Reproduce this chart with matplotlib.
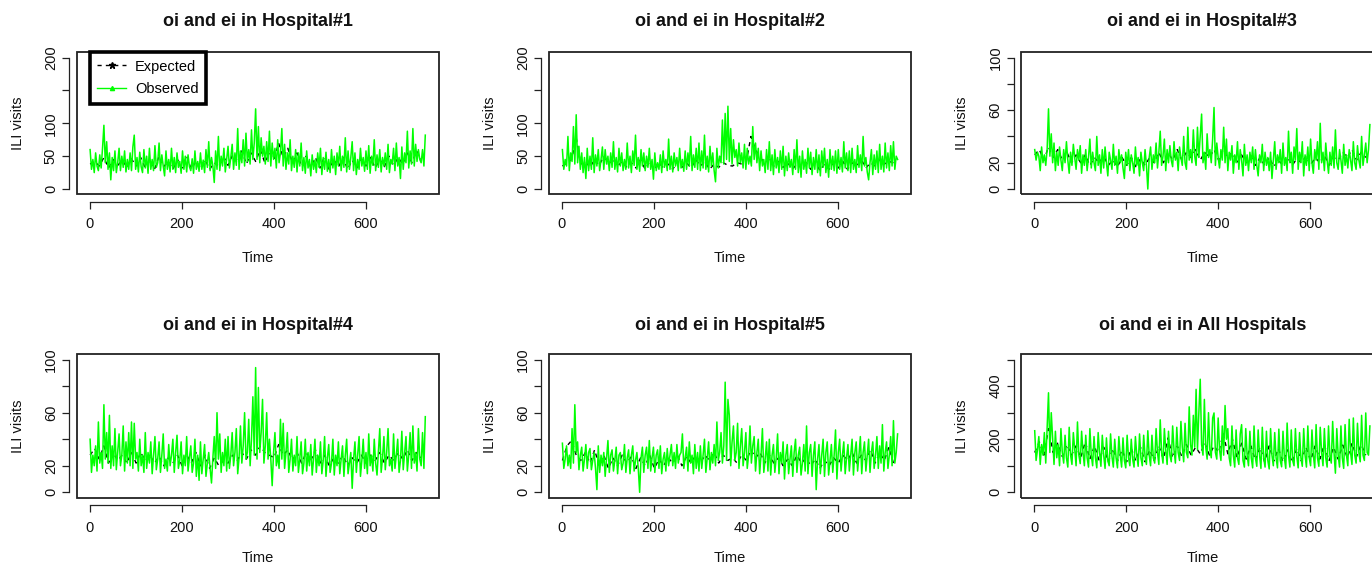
import numpy as np
import matplotlib
matplotlib.use("Agg")
import matplotlib.pyplot as plt
from matplotlib.lines import Line2D
from matplotlib.patches import Rectangle

plt.rcParams['font.family'] = ['Liberation Sans', 'DejaVu Sans']

# ---------------- data ----------------
obs_days = list(range(1, 731, 3))    # observed sampled every 3 days (244 values)
exp_days = list(range(1, 731, 10))   # expected sampled every 10 days (73 values)

titles = ["oi and ei in Hospital#1", "oi and ei in Hospital#2", "oi and ei in Hospital#3",
          "oi and ei in Hospital#4", "oi and ei in Hospital#5", "oi and ei in All Hospitals"]

h1_obs = [60, 30, 45, 25, 55, 35, 28, 52, 32, 62,
          97, 40, 72, 30, 55, 14, 48, 28, 58, 25,
          40, 62, 28, 50, 33, 58, 26, 45, 30, 55,
          28, 64, 82, 30, 48, 26, 56, 34, 25, 60,
          32, 50, 24, 62, 30, 45, 28, 66, 33, 40,
          70, 28, 52, 35, 20, 58, 30, 45, 26, 62,
          30, 48, 25, 55, 33, 42, 24, 58, 30, 50,
          26, 52, 34, 28, 46, 24, 58, 30, 42, 27,
          55, 30, 44, 25, 60, 33, 72, 28, 48, 35,
          10, 58, 30, 80, 28, 50, 35, 62, 26, 45,
          65, 32, 48, 68, 30, 55, 36, 92, 30, 58,
          40, 75, 35, 85, 42, 60, 38, 90, 45, 70,
          122, 45, 95, 40, 78, 50, 65, 38, 72, 42,
          88, 35, 70, 45, 62, 32, 75, 40, 55, 92,
          35, 68, 30, 55, 38, 75, 28, 50, 33, 60,
          26, 55, 35, 70, 28, 48, 24, 58, 32, 45,
          20, 52, 30, 44, 25, 55, 33, 62, 22, 48,
          30, 56, 27, 45, 25, 60, 32, 50, 22, 55,
          35, 65, 28, 50, 33, 78, 26, 58, 30, 48,
          72, 28, 55, 22, 45, 30, 62, 35, 48, 27,
          58, 30, 66, 24, 50, 36, 75, 28, 52, 33,
          60, 26, 48, 35, 55, 30, 68, 25, 45, 38,
          62, 28, 70, 35, 48, 16, 64, 30, 55, 40,
          88, 32, 58, 38, 92, 35, 68, 42, 60, 45,
          40, 60, 35, 82]
h1_exp = [38, 42, 35, 48, 32, 45, 36, 44, 33, 46,
          35, 48, 32, 44, 30, 50, 34, 42, 30, 45,
          32, 50, 30, 42, 33, 45, 30, 40, 35, 50,
          36, 52, 40, 58, 38, 55, 42, 60, 40, 55,
          45, 70, 48, 62, 40, 55, 35, 50, 33, 48,
          32, 50, 30, 45, 33, 48, 30, 44, 32, 46,
          35, 48, 32, 45, 34, 50, 36, 48, 38, 55,
          40, 58, 45]

h2_obs = [60, 30, 45, 35, 80, 28, 55, 42, 95, 38,
          113, 40, 65, 30, 55, 25, 48, 16, 62, 28,
          50, 30, 78, 25, 52, 35, 60, 28, 45, 64,
          30, 60, 38, 50, 28, 55, 33, 72, 30, 48,
          26, 62, 35, 55, 28, 45, 30, 70, 32, 50,
          25, 58, 36, 82, 30, 48, 27, 60, 35, 55,
          28, 50, 33, 62, 30, 45, 15, 55, 28, 40,
          30, 52, 25, 58, 33, 45, 28, 76, 30, 50,
          26, 55, 35, 48, 28, 62, 32, 45, 27, 58,
          30, 55, 35, 80, 28, 52, 33, 62, 30, 70,
          28, 58, 32, 82, 30, 50, 26, 65, 35, 55,
          28, 11, 62, 32, 50, 40, 105, 38, 115, 45,
          126, 42, 92, 38, 75, 48, 60, 35, 70, 40,
          55, 32, 68, 30, 62, 38, 50, 35, 95, 45,
          70, 40, 62, 28, 58, 35, 45, 25, 60, 30,
          72, 28, 52, 22, 60, 32, 48, 25, 58, 30,
          65, 20, 50, 28, 55, 33, 45, 22, 60, 30,
          75, 25, 50, 18, 58, 30, 45, 24, 62, 32,
          56, 22, 48, 30, 60, 25, 52, 20, 58, 33,
          62, 25, 45, 18, 60, 30, 50, 28, 58, 24,
          60, 30, 48, 26, 72, 32, 55, 28, 58, 25,
          62, 30, 45, 25, 66, 33, 52, 28, 80, 35,
          48, 26, 14, 40, 60, 22, 52, 30, 58, 25,
          68, 30, 50, 26, 70, 32, 55, 28, 66, 35,
          72, 30, 50, 45]
h2_exp = [35, 40, 45, 78, 38, 42, 33, 45, 36, 50,
          38, 45, 35, 42, 33, 40, 32, 45, 30, 42,
          30, 40, 32, 38, 30, 42, 33, 40, 32, 45,
          35, 42, 30, 38, 33, 40, 36, 35, 40, 38,
          42, 80, 60, 48, 40, 45, 35, 42, 33, 40,
          30, 38, 32, 40, 30, 42, 28, 38, 30, 40,
          32, 42, 30, 40, 35, 45, 32, 40, 35, 45,
          38, 42, 40]

h3_obs = [30, 22, 28, 25, 14, 32, 20, 26, 18, 30,
          61, 25, 42, 20, 35, 14, 28, 18, 32, 22,
          14, 30, 20, 36, 22, 12, 28, 18, 34, 24,
          15, 30, 22, 33, 12, 26, 18, 30, 14, 24,
          38, 16, 28, 20, 14, 40, 18, 26, 12, 30,
          16, 32, 20, 10, 28, 22, 15, 34, 18, 25,
          12, 30, 20, 26, 16, 8, 28, 18, 30, 14,
          26, 20, 12, 32, 18, 24, 10, 28, 20, 14,
          30, 18, 0, 24, 32, 15, 26, 20, 35, 16,
          28, 44, 18, 25, 38, 14, 30, 20, 33, 22,
          17, 36, 22, 28, 14, 32, 24, 18, 40, 20,
          15, 47, 22, 30, 20, 45, 25, 18, 47, 24,
          40, 57, 20, 28, 15, 42, 24, 30, 20, 38,
          62, 18, 35, 24, 16, 30, 22, 47, 20, 38,
          14, 28, 22, 33, 12, 26, 20, 36, 15, 30,
          22, 10, 34, 18, 26, 14, 28, 20, 32, 15,
          30, 18, 10, 26, 20, 34, 14, 28, 18, 24,
          14, 28, 8, 22, 36, 15, 26, 20, 30, 12,
          35, 18, 24, 14, 44, 20, 28, 12, 32, 22,
          46, 15, 28, 20, 36, 10, 26, 18, 32, 14,
          38, 20, 12, 30, 22, 36, 15, 50, 20, 28,
          14, 35, 22, 12, 28, 18, 32, 16, 45, 20,
          15, 30, 22, 12, 34, 18, 26, 16, 30, 22,
          14, 36, 20, 15, 33, 22, 16, 40, 18, 26,
          35, 20, 30, 49]
h3_exp = [26, 30, 22, 32, 24, 30, 22, 28, 20, 26,
          20, 26, 18, 24, 20, 25, 18, 22, 17, 24,
          18, 24, 17, 23, 18, 24, 20, 28, 20, 28,
          22, 30, 22, 28, 24, 30, 22, 28, 24, 30,
          22, 30, 24, 28, 20, 26, 20, 25, 18, 24,
          18, 24, 17, 22, 18, 24, 18, 23, 20, 25,
          18, 24, 20, 26, 18, 24, 22, 28, 24, 30,
          22, 28, 24]

h4_obs = [40, 15, 28, 20, 35, 16, 53, 22, 30, 18,
          66, 25, 45, 22, 58, 18, 35, 20, 48, 17,
          30, 44, 20, 28, 50, 16, 38, 22, 45, 20,
          53, 18, 52, 25, 30, 16, 40, 20, 28, 15,
          45, 18, 30, 22, 38, 14, 28, 42, 17, 25,
          38, 15, 28, 44, 18, 25, 16, 36, 20, 28,
          40, 15, 30, 43, 18, 24, 38, 14, 28, 20,
          42, 16, 26, 35, 15, 22, 40, 12, 28, 9,
          38, 14, 25, 36, 12, 22, 30, 18, 7, 26,
          42, 18, 60, 25, 44, 15, 30, 20, 40, 16,
          42, 18, 28, 45, 20, 30, 48, 14, 26, 50,
          22, 35, 60, 25, 30, 55, 20, 40, 72, 28,
          94, 25, 79, 30, 45, 70, 22, 35, 60, 25,
          40, 25, 5, 30, 45, 20, 28, 18, 55, 25,
          52, 18, 30, 45, 15, 25, 40, 16, 28, 20,
          42, 15, 25, 38, 14, 22, 40, 16, 30, 20,
          36, 13, 25, 40, 15, 28, 20, 38, 14, 24,
          42, 12, 26, 36, 15, 22, 40, 13, 28, 20,
          38, 14, 25, 35, 12, 28, 40, 14, 22, 30,
          3, 25, 38, 15, 28, 42, 12, 24, 40, 18,
          30, 14, 44, 20, 28, 16, 40, 22, 13, 30,
          48, 15, 26, 42, 17, 30, 48, 20, 25, 16,
          44, 18, 28, 40, 15, 24, 46, 17, 30, 42,
          16, 28, 45, 18, 50, 22, 30, 16, 48, 25,
          20, 45, 18, 57]
h4_exp = [28, 33, 25, 35, 22, 30, 24, 28, 22, 30,
          22, 30, 24, 28, 22, 27, 20, 26, 22, 28,
          20, 28, 22, 30, 20, 28, 18, 26, 20, 24,
          22, 28, 24, 30, 25, 32, 28, 35, 30, 28,
          26, 36, 28, 32, 24, 30, 22, 30, 24, 32,
          22, 28, 20, 26, 22, 28, 20, 26, 22, 28,
          22, 28, 24, 30, 22, 28, 24, 30, 25, 32,
          24, 30, 26]

h5_obs = [37, 18, 25, 35, 20, 28, 18, 48, 22, 66,
          30, 38, 17, 28, 34, 16, 25, 36, 18, 30,
          33, 17, 24, 30, 18, 2, 35, 15, 28, 20,
          30, 12, 25, 39, 15, 28, 32, 16, 24, 34,
          14, 28, 30, 17, 22, 36, 15, 26, 32, 14,
          28, 35, 16, 24, 30, 18, 0, 26, 34, 15,
          28, 34, 18, 39, 16, 26, 34, 15, 28, 32,
          18, 35, 14, 25, 30, 16, 33, 20, 28, 36,
          20, 30, 18, 36, 22, 28, 30, 44, 18, 26,
          34, 16, 38, 22, 28, 14, 36, 18, 30, 16,
          35, 18, 28, 40, 15, 26, 38, 17, 30, 22,
          36, 20, 53, 24, 30, 45, 22, 35, 83, 24,
          70, 58, 20, 38, 50, 24, 30, 52, 18, 35,
          48, 20, 30, 45, 18, 28, 50, 22, 35, 42,
          16, 30, 40, 14, 28, 48, 15, 25, 38, 16,
          40, 13, 28, 36, 15, 26, 44, 14, 30, 22,
          38, 10, 28, 36, 14, 25, 35, 12, 30, 40,
          15, 28, 34, 13, 22, 36, 16, 50, 14, 30,
          36, 12, 28, 38, 2, 25, 36, 14, 28, 40,
          12, 30, 38, 13, 24, 36, 15, 28, 47, 10,
          30, 40, 16, 28, 38, 14, 26, 36, 16, 28,
          40, 13, 30, 38, 16, 28, 42, 14, 30, 38,
          16, 28, 40, 15, 30, 38, 18, 28, 42, 18,
          35, 22, 51, 16, 30, 38, 18, 28, 42, 20,
          54, 22, 30, 44]
h5_exp = [24, 35, 39, 28, 24, 30, 22, 32, 20, 28,
          18, 26, 20, 28, 22, 27, 18, 26, 20, 28,
          18, 25, 20, 26, 22, 28, 20, 27, 22, 28,
          22, 28, 24, 30, 22, 28, 24, 26, 22, 28,
          24, 32, 26, 30, 22, 28, 22, 26, 20, 25,
          20, 28, 22, 26, 20, 25, 18, 24, 20, 26,
          22, 28, 24, 30, 22, 28, 24, 32, 22, 30,
          24, 34, 22]

all_obs = [232, 120, 160, 210, 105, 180, 140, 225, 110, 242,
           375, 150, 300, 200, 105, 230, 130, 180, 100, 240,
           150, 110, 215, 130, 95, 245, 140, 105, 225, 160,
           100, 265, 140, 108, 230, 150, 100, 215, 130, 95,
           240, 140, 100, 210, 130, 92, 225, 150, 98, 215,
           140, 90, 205, 120, 100, 220, 135, 95, 200, 130,
           92, 210, 140, 95, 205, 120, 92, 215, 130, 100,
           200, 125, 95, 210, 140, 98, 220, 130, 100, 215,
           135, 105, 232, 140, 100, 215, 130, 110, 240, 150,
           105, 273, 150, 110, 240, 160, 105, 230, 140, 115,
           250, 160, 110, 245, 150, 120, 267, 170, 115, 260,
           150, 130, 322, 180, 140, 290, 170, 388, 160, 300,
           426, 180, 140, 350, 170, 125, 300, 160, 130, 280,
           299, 150, 125, 280, 160, 120, 250, 140, 327, 200,
           240, 130, 100, 250, 140, 95, 235, 130, 105, 220,
           255, 120, 95, 240, 140, 100, 230, 130, 92, 250,
           130, 98, 235, 140, 90, 245, 130, 95, 230, 120,
           88, 240, 140, 100, 225, 130, 92, 238, 120, 96,
           230, 130, 90, 261, 140, 95, 235, 120, 100, 240,
           135, 92, 225, 130, 98, 240, 140, 95, 250, 130,
           100, 235, 140, 92, 255, 130, 98, 245, 150, 100,
           240, 130, 95, 250, 140, 110, 267, 150, 72, 240,
           140, 95, 250, 130, 90, 255, 140, 100, 275, 150,
           105, 280, 140, 110, 260, 150, 115, 290, 140, 120,
           299, 150, 140, 250]
all_exp = [150, 190, 140, 240, 150, 185, 135, 180, 140, 175,
           130, 190, 125, 175, 120, 170, 115, 165, 118, 160,
           115, 165, 118, 170, 115, 160, 120, 175, 125, 205,
           130, 175, 135, 180, 140, 170, 145, 185, 140, 175,
           150, 220, 145, 200, 130, 185, 125, 175, 120, 170,
           115, 175, 118, 165, 115, 160, 112, 165, 118, 170,
           120, 175, 125, 180, 118, 170, 125, 178, 130, 185,
           135, 180, 140]

obs_series = [h1_obs, h2_obs, h3_obs, h4_obs, h5_obs, all_obs]
exp_series = [h1_exp, h2_exp, h3_exp, h4_exp, h5_exp, all_exp]

yticks_list = [[0, 50, 100, 150, 200], [0, 50, 100, 150, 200],
               [0, 20, 40, 60, 80, 100], [0, 20, 40, 60, 80, 100],
               [0, 20, 40, 60, 80, 100], [0, 100, 200, 300, 400, 500]]
ylabels_list = [['0', '50', '100', '', '200'], ['0', '50', '100', '', '200'],
                ['0', '20', '', '60', '', '100'], ['0', '20', '', '60', '', '100'],
                ['0', '20', '', '60', '', '100'], ['0', '', '200', '', '400', '']]
xticks = [0, 200, 400, 600]
xticklabels = ['0', '200', '400', '600']
legend_labels = ['Expected', 'Observed']

# ---------------- layout ----------------
W, H, DPI = 1372, 569, 100
fig = plt.figure(figsize=(W / DPI, H / DPI), dpi=DPI)
fig.patch.set_facecolor('white')

col_left = [76.7, 549.0, 1021.3]
row_top = [52.3, 354.3]
row_bottom = [194.3, 497.6]
title_base = [26.0, 330.0]
xlab_y = [258.0, 558.5]
ax_w = 362.0

GREEN = '#00FF00'
FS = 10.5

def pad_range(lo, hi):
    r = hi - lo
    return lo - 0.04 * r, hi + 0.04 * r

xlim = pad_range(1, 730)

for k in range(6):
    r, c = divmod(k, 3)
    L = col_left[c]
    T = row_top[r]
    B = row_bottom[r]
    h = B - T
    ax = fig.add_axes([L / W, 1 - B / H, ax_w / W, h / H])
    ax.set_facecolor('white')
    ax.plot(exp_days, exp_series[k], color='black', lw=1.0, ls=(0, (3, 3)), zorder=2)
    ax.plot(obs_days, obs_series[k], color=GREEN, lw=1.1, zorder=3)
    yt = yticks_list[k]
    ax.set_xlim(*xlim)
    ax.set_ylim(*pad_range(yt[0], yt[-1]))

    for s in ['top', 'right']:
        ax.spines[s].set_visible(False)
    for s in ['left', 'bottom']:
        ax.spines[s].set_position(('outward', 5.5))
        ax.spines[s].set_linewidth(0.9)
        ax.spines[s].set_color('#222222')
    ax.spines['left'].set_bounds(yt[0], yt[-1])
    ax.spines['bottom'].set_bounds(xticks[0], xticks[-1])
    ax.add_patch(Rectangle((0, 0), 1, 1, transform=ax.transAxes, fill=False,
                           lw=1.3, edgecolor='#222222', clip_on=False, zorder=5))

    ax.set_xticks(xticks)
    ax.set_xticklabels(xticklabels)
    ax.set_yticks(yt)
    ax.set_yticklabels(ylabels_list[k])
    ax.tick_params(direction='out', length=5, width=0.9, color='#222222',
                   labelsize=FS, labelcolor='#111111')
    ax.tick_params(axis='x', pad=6)
    ax.tick_params(axis='y', pad=3)
    for lbl in ax.get_yticklabels():
        lbl.set_rotation(90)
        lbl.set_va('center')
        lbl.set_ha('right')

    cx = (L + ax_w / 2) / W
    fig.text(cx, 1 - title_base[r] / H, titles[k], ha='center', va='baseline',
             fontsize=13, fontweight='bold', color='#111111')
    fig.text(cx, 1 - xlab_y[r] / H, 'Time', ha='center', va='center',
             fontsize=FS, color='#111111')
    fig.text((L - 59) / W, 1 - (T + h / 2) / H, 'ILI visits', ha='center',
             va='center', rotation=90, fontsize=FS, color='#111111')

    if k == 0:
        handles = [Line2D([], [], color='black', lw=1.0, ls=(0, (3, 3)),
                          marker='*', markersize=5),
                   Line2D([], [], color=GREEN, lw=1.0, marker='^', markersize=3)]
        leg = ax.legend(handles, legend_labels, loc='upper left',
                        bbox_to_anchor=((90 - L) / ax_w, 1.0), borderaxespad=0,
                        fancybox=False, framealpha=1, edgecolor='black',
                        fontsize=FS, handlelength=2.0, handletextpad=0.6,
                        borderpad=0.5, labelspacing=0.6, numpoints=1)
        leg.get_frame().set_linewidth(2.6)
        leg.set_zorder(10)

fig.savefig('out.png', dpi=DPI, facecolor='white')
